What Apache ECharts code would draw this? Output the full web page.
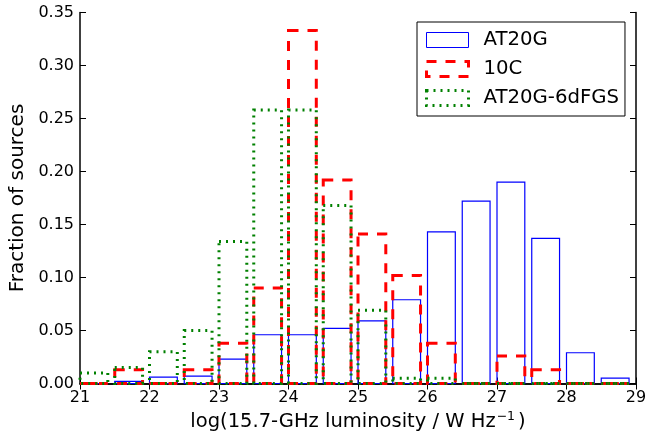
<!DOCTYPE html>
<html>
<head>
<meta charset="utf-8">
<script src="https://cdn.jsdelivr.net/npm/echarts@6/dist/echarts.min.js"></script>
<style>html,body{margin:0;padding:0;background:#fff;}#c{width:665px;height:437px;}</style>
</head>
<body>
<div id="c"></div>
<script>
var binStarts = [21.0,21.5,22.0,22.5,23.0,23.5,24.0,24.5,25.0,25.5,26.0,26.5,27.0,27.5,28.0,28.5];
var at20g   = [0.000,0.002,0.006,0.007,0.023,0.046,0.046,0.052,0.059,0.079,0.143,0.172,0.190,0.137,0.029,0.005];
var c10     = [0.000,0.013,0.000,0.013,0.038,0.090,0.333,0.192,0.141,0.102,0.038,0.000,0.026,0.013,0.000,0.000];
var sixdf   = [0.010,0.015,0.030,0.050,0.134,0.258,0.258,0.168,0.069,0.005,0.005,0.000,0.000,0.000,0.000,0.000];
var xTicks = [21,22,23,24,25,26,27,28,29];
var yTicks = [0,0.05,0.10,0.15,0.20,0.25,0.30,0.35];
var barWidth = 0.4;

function toData(vals){ return binStarts.map(function(b,i){ return [b, b+barWidth, vals[i]]; }); }

function makeSeries(name, vals, color, lw, dash, z){
  return {
    name: name, type: 'custom', z: z,
    itemStyle: {color: color},
    renderItem: function(params, api){
      var p0 = api.coord([api.value(0), 0]);
      var p1 = api.coord([api.value(1), api.value(2)]);
      return {
        type: 'rect',
        shape: {x: p0[0], y: p1[1], width: p1[0]-p0[0], height: p0[1]-p1[1]},
        style: {fill: 'none', stroke: color, lineWidth: lw, lineDash: dash}
      };
    },
    encode: {x: [0,1], y: 2},
    data: toData(vals)
  };
}

var font = 'DejaVu Sans';
var chart = echarts.init(document.getElementById('c'), null, {renderer: 'canvas'});
var axisCommon = {
  axisLine: {show: true, lineStyle: {color: '#000', width: 1.5}},
  axisTick: {show: true, inside: true, length: 6, lineStyle: {color: '#000', width: 1}},
  splitLine: {show: false}
};
chart.setOption({
  animation: false,
  backgroundColor: '#fff',
  grid: {left: 80, right: 29, top: 12.5, bottom: 53.5, containLabel: false, outerBoundsMode: 'none'},
  xAxis: [
    Object.assign({type: 'value', min: 21, max: 29, interval: 1, position: 'bottom',
      axisLabel: {color: '#000', fontFamily: font, fontSize: 16, margin: 6},
      name: '{a|log(15.7-GHz luminosity / W Hz}{s|−1}{a|)}', nameLocation: 'middle', nameGap: 9,
      nameTextStyle: {lineHeight: 22, rich: {
        a: {fontFamily: font, fontSize: 19.5, color: '#000', lineHeight: 22, verticalAlign: 'bottom'},
        s: {fontFamily: font, fontSize: 12.5, color: '#000', lineHeight: 12, verticalAlign: 'top', padding: [0,3,10,1]}}}
    }, axisCommon),
    Object.assign({type: 'value', min: 21, max: 29, interval: 1, position: 'top', axisLabel: {show: false}}, axisCommon)
  ],
  yAxis: [
    Object.assign({type: 'value', min: 0, max: 0.35, interval: 0.05, position: 'left',
      axisLabel: {color: '#000', fontFamily: font, fontSize: 16, margin: 6, formatter: function(v){ return v.toFixed(2); }},
      name: 'Fraction of sources', nameLocation: 'middle', nameGap: 50,
      nameTextStyle: {fontFamily: font, fontSize: 20, color: '#000'}
    }, axisCommon),
    Object.assign({type: 'value', min: 0, max: 0.35, interval: 0.05, position: 'right', axisLabel: {show: false}}, axisCommon)
  ],
  legend: {
    orient: 'vertical', left: 417, top: 22,
    padding: [8, 6, 8, 8], itemGap: 9, itemWidth: 42, itemHeight: 15,
    borderColor: '#000', borderWidth: 1, backgroundColor: '#fff',
    textStyle: {fontFamily: font, fontSize: 19.7, color: '#000', padding: [0,0,0,10], lineHeight: 20},
    data: [
      {name: 'AT20G', icon: 'rect', itemStyle: {color: 'rgba(0,0,0,0)', borderColor: '#0000ff', borderWidth: 1}},
      {name: '10C', icon: 'rect', itemStyle: {color: 'rgba(0,0,0,0)', borderColor: '#ff0000', borderWidth: 3, borderType: [10, 9]}},
      {name: 'AT20G-6dFGS', icon: 'rect', itemStyle: {color: 'rgba(0,0,0,0)', borderColor: '#008000', borderWidth: 3, borderType: [2, 5]}}
    ]
  },
  series: [
    makeSeries('AT20G', at20g, '#0000ff', 1.2, null, 3),
    makeSeries('10C', c10, '#ff0000', 3, [10, 9], 4),
    makeSeries('AT20G-6dFGS', sixdf, '#008000', 3, [2, 5], 5)
  ]
});
</script>
</body>
</html>
